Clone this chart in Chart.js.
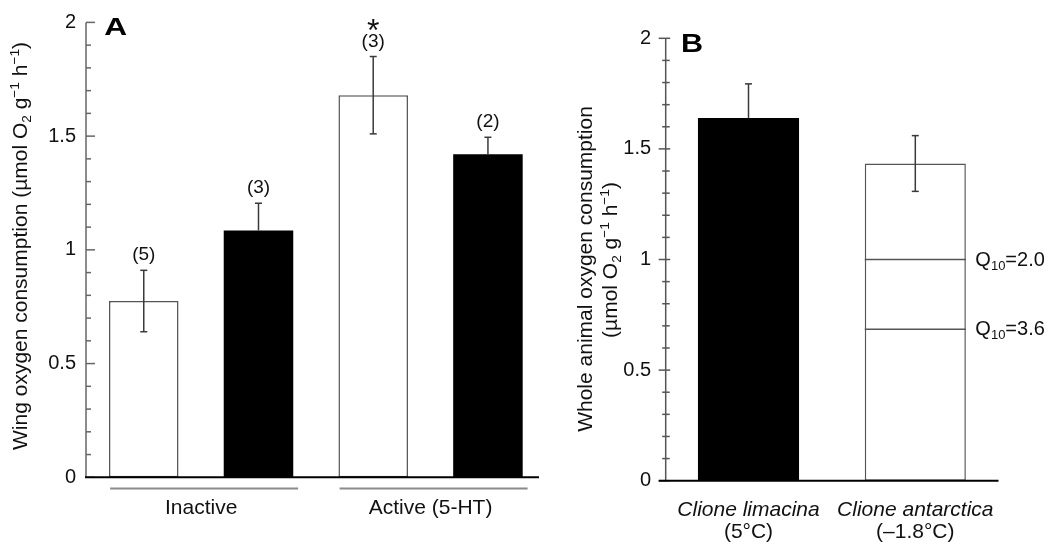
<!DOCTYPE html>
<html><head><meta charset="utf-8">
<script src="https://cdn.jsdelivr.net/npm/chart.js@4.4.1/dist/chart.umd.min.js"></script>
<style>
html,body{margin:0;padding:0;background:#fff;width:1051px;height:544px;overflow:hidden}
#wa{position:absolute;left:0;top:0;width:560px;height:544px}
#wb{position:absolute;left:545px;top:0;width:506px;height:544px}
</style></head><body>
<div id="wa"><canvas id="ca"></canvas></div>
<div id="wb"><canvas id="cb"></canvas></div>
<script>
// ---------- Data: panel A ----------
const groupsA = ['Inactive', 'Active (5-HT)'];
const whiteA = [0.775, 1.68];
const whiteErrA = [0.135, 0.17];
const whiteNA = ['(5)', '(3)'];
const whiteSigA = ['', '*'];
const blackA = [1.085, 1.42];
const blackErrA = [0.12, 0.075];
const blackNA = ['(3)', '(2)'];
const yTicksA = [0, 0.5, 1, 1.5, 2];
const yTickLabelsA = ['0', '0.5', '1', '1.5', '2'];

// ---------- Data: panel B ----------
const speciesB = ['Clione limacina', 'Clione antarctica'];
const tempsB = ['(5°C)', '(–1.8°C)'];
const valuesB = [1.64, 1.434];
const errB = [0.154, 0.126];
const q10Labels = ['2.0', '3.6'];
const q10Values = [1.0, 0.685];
const yTicksB = [0, 0.5, 1, 1.5, 2];
const yTickLabelsB = ['0', '0.5', '1', '1.5', '2'];

const FAM = '"Liberation Sans", Arial, Helvetica, sans-serif';

function drawRich(ctx, segs, x0, by, size, align, style) {
  const st = style ? style + ' ' : '';
  let w = 0;
  segs.forEach(sg => {
    const s = sg.k ? size * 0.65 : size;
    ctx.font = st + s + 'px ' + FAM;
    sg.w = ctx.measureText(sg.t).width; w += sg.w;
  });
  let x = align === 'center' ? x0 - w / 2 : x0;
  ctx.textAlign = 'left'; ctx.textBaseline = 'alphabetic';
  segs.forEach(sg => {
    const s = sg.k ? size * 0.65 : size;
    ctx.font = st + s + 'px ' + FAM;
    const dy = sg.k === 'sub' ? size * 0.2 : sg.k === 'sup' ? -size * 0.38 : 0;
    ctx.fillText(sg.t, x, by + dy);
    x += sg.w;
  });
}
function textCentered(ctx, t, x, cy) {
  const m = ctx.measureText(t);
  const by = cy - (m.actualBoundingBoxDescent - m.actualBoundingBoxAscent) / 2;
  ctx.textAlign = 'center'; ctx.textBaseline = 'alphabetic';
  ctx.fillText(t, x, by);
}
function seg(ctx, x1, y1, x2, y2) { ctx.beginPath(); ctx.moveTo(x1, y1); ctx.lineTo(x2, y2); ctx.stroke(); }

function errorBars(chart, di, errs, lower) {
  const {ctx, scales: {y}} = chart;
  const meta = chart.getDatasetMeta(di);
  const data = chart.data.datasets[di].data;
  ctx.strokeStyle = '#3a3a3a'; ctx.lineWidth = 1.5;
  meta.data.forEach((bar, i) => {
    const v = data[i];
    const yt = y.getPixelForValue(v + errs[i]);
    const yb = y.getPixelForValue(v - errs[i]);
    const yv = y.getPixelForValue(v);
    seg(ctx, bar.x, yt, bar.x, lower ? yb : yv);
    seg(ctx, bar.x - 3.5, yt, bar.x + 3.5, yt);
    if (lower) seg(ctx, bar.x - 3.5, yb, bar.x + 3.5, yb);
  });
}

// ---------- Panel A ----------
const plugA = {
  id: 'decoA',
  afterDatasetsDraw(chart) {
    const {ctx, scales: {x, y}} = chart;
    ctx.save();
    const ax = 86;
    ctx.strokeStyle = '#666'; ctx.lineWidth = 1.5;
    seg(ctx, ax, y.getPixelForValue(2), ax, y.getPixelForValue(0));
    for (let k = 0; k <= 20; k++) {
      const py = y.getPixelForValue(k / 10);
      seg(ctx, ax, py, ax + (k % 5 === 0 ? 9 : 5), py);
    }
    ctx.strokeStyle = '#000'; ctx.lineWidth = 2;
    const y0 = y.getPixelForValue(0);
    seg(ctx, ax - 1, y0, 539, y0);
    errorBars(chart, 0, whiteErrA, true);
    errorBars(chart, 1, blackErrA, false);
    ctx.fillStyle = '#111';
    [[0, whiteErrA, whiteNA, whiteSigA], [1, blackErrA, blackNA, null]].forEach(([di, errs, ns, sig]) => {
      const meta = chart.getDatasetMeta(di);
      const data = chart.data.datasets[di].data;
      meta.data.forEach((bar, i) => {
        const yt = y.getPixelForValue(data[i] + errs[i]);
        ctx.font = '19px ' + FAM;
        const cy = yt - 14.5;
        textCentered(ctx, ns[i], bar.x, cy);
        if (sig && sig[i]) {
          ctx.font = '32px ' + FAM;
          textCentered(ctx, sig[i], bar.x, cy - 17);
        }
      });
    });
    groupsA.forEach((g, i) => {
      const cx = x.getPixelForValue(i);
      ctx.strokeStyle = '#8a8a8a'; ctx.lineWidth = 2;
      seg(ctx, cx - 91, 488.5, cx + 97, 488.5);
      ctx.fillStyle = '#111'; ctx.font = '21px ' + FAM;
      ctx.textAlign = 'center'; ctx.textBaseline = 'alphabetic';
      ctx.fillText(g, cx, 514);
    });
    ctx.save();
    ctx.translate(104.3, 35);
    ctx.scale(1.35, 1);
    ctx.font = 'bold 23.5px ' + FAM; ctx.textAlign = 'left'; ctx.fillStyle = '#000';
    ctx.fillText('A', 0, 0);
    ctx.restore();
    ctx.save();
    ctx.translate(26.5, 246);
    ctx.rotate(-Math.PI / 2);
    ctx.fillStyle = '#111';
    drawRich(ctx, [{t: 'Wing oxygen consumption (µmol O'}, {t: '2', k: 'sub'}, {t: ' g'}, {t: '−1', k: 'sup'}, {t: ' h'}, {t: '−1', k: 'sup'}, {t: ')'}], 0, 0, 21, 'center');
    ctx.restore();
    ctx.restore();
  }
};

new Chart(document.getElementById('ca'), {
  type: 'bar',
  data: {
    labels: groupsA,
    datasets: [
      {data: whiteA, backgroundColor: '#fff', borderColor: '#555', borderWidth: 1.5, borderSkipped: false},
      {data: blackA, backgroundColor: '#000', borderColor: '#000', borderWidth: 0}
    ]
  },
  options: {
    responsive: true, maintainAspectRatio: false, animation: false,
    categoryPercentage: 1.0, barPercentage: 0.606,
    layout: {padding: {top: 17.3, right: 14.7, left: 0, bottom: 0}},
    plugins: {legend: {display: false}, tooltip: {enabled: false}},
    scales: {
      x: {grid: {display: false, drawTicks: false}, border: {display: false}, ticks: {display: false},
          afterFit: s => { s.height = 66.7; }},
      y: {min: 0, max: 2, grid: {display: false, drawTicks: false}, border: {display: false},
          afterBuildTicks: s => { s.ticks = yTicksA.map(v => ({value: v})); },
          ticks: {padding: 10.4, color: '#111', font: {family: FAM, size: 20},
                  callback: (v) => yTickLabelsA[yTicksA.indexOf(v)] ?? String(v)},
          afterFit: s => { s.width = 86.4; }}
    }
  },
  plugins: [plugA]
});

// ---------- Panel B ----------
const plugB = {
  id: 'decoB',
  afterDatasetsDraw(chart) {
    const {ctx, scales: {x, y}} = chart;
    const OX = 545;
    ctx.save();
    const ax = 665.7 - OX;
    ctx.strokeStyle = '#555'; ctx.lineWidth = 1.5;
    seg(ctx, ax, y.getPixelForValue(2), ax, y.getPixelForValue(0));
    for (let k = 0; k <= 20; k++) {
      const py = y.getPixelForValue(k / 10);
      if (k % 5 === 0) seg(ctx, ax - 7, py, ax + 4.5, py);
      else seg(ctx, ax - 3.5, py, ax + 4, py);
    }
    ctx.strokeStyle = '#000'; ctx.lineWidth = 2;
    const y0 = y.getPixelForValue(0);
    seg(ctx, ax - 7, y0, 998.5 - OX, y0);
    const meta = chart.getDatasetMeta(0);
    const bar = meta.data[1];
    ctx.strokeStyle = '#555'; ctx.lineWidth = 1.5;
    q10Values.forEach((v, i) => {
      const py = y.getPixelForValue(v);
      seg(ctx, bar.x - bar.width / 2, py, bar.x + bar.width / 2, py);
      ctx.fillStyle = '#111';
      drawRich(ctx, [{t: 'Q'}, {t: '10', k: 'sub'}, {t: '=' + q10Labels[i]}], bar.x + bar.width / 2 + 9.5, py + 6, 20, 'left');
    });
    const data = chart.data.datasets[0].data;
    ctx.strokeStyle = '#3a3a3a'; ctx.lineWidth = 1.5;
    meta.data.forEach((b, i) => {
      const yt = y.getPixelForValue(data[i] + errB[i]);
      const yb = y.getPixelForValue(data[i] - errB[i]);
      const yv = y.getPixelForValue(data[i]);
      const lower = i === 1;
      seg(ctx, b.x, yt, b.x, lower ? yb : yv);
      seg(ctx, b.x - 3.5, yt, b.x + 3.5, yt);
      if (lower) seg(ctx, b.x - 3.5, yb, b.x + 3.5, yb);
    });
    ctx.fillStyle = '#111'; ctx.textAlign = 'center'; ctx.textBaseline = 'alphabetic';
    speciesB.forEach((s, i) => {
      const cx = x.getPixelForValue(i);
      ctx.font = 'italic 21px ' + FAM;
      ctx.fillText(s, cx, 516);
      ctx.font = '21px ' + FAM;
      ctx.fillText(tempsB[i], cx, 537.5);
    });
    ctx.save();
    ctx.translate(681 - OX, 51.7);
    ctx.scale(1.2, 1);
    ctx.font = 'bold 25.5px ' + FAM; ctx.textAlign = 'left'; ctx.fillStyle = '#000';
    ctx.fillText('B', 0, 0);
    ctx.restore();
    ctx.fillStyle = '#111';
    ctx.save();
    ctx.translate(592 - OX, 269);
    ctx.rotate(-Math.PI / 2);
    drawRich(ctx, [{t: 'Whole animal oxygen consumption'}], 0, 0, 21, 'center');
    ctx.restore();
    ctx.save();
    ctx.translate(617 - OX, 260);
    ctx.rotate(-Math.PI / 2);
    drawRich(ctx, [{t: '(µmol O'}, {t: '2', k: 'sub'}, {t: ' g'}, {t: '−1', k: 'sup'}, {t: ' h'}, {t: '−1', k: 'sup'}, {t: ')'}], 0, 0, 21, 'center');
    ctx.restore();
    ctx.restore();
  }
};

new Chart(document.getElementById('cb'), {
  type: 'bar',
  data: {
    labels: speciesB,
    datasets: [
      {data: valuesB, backgroundColor: ['#000', '#fff'], borderColor: ['#000', '#555'], borderWidth: [0, 1.5], borderSkipped: false}
    ]
  },
  options: {
    responsive: true, maintainAspectRatio: false, animation: false,
    categoryPercentage: 1.0, barPercentage: 0.606,
    layout: {padding: {top: 38.3, right: 52.3, left: 0, bottom: 0}},
    plugins: {legend: {display: false}, tooltip: {enabled: false}},
    scales: {
      x: {grid: {display: false, drawTicks: false}, border: {display: false}, ticks: {display: false},
          afterFit: s => { s.height = 63.3; }},
      y: {min: 0, max: 2, grid: {display: false, drawTicks: false}, border: {display: false},
          afterBuildTicks: s => { s.ticks = yTicksB.map(v => ({value: v})); },
          ticks: {padding: 14, color: '#111', font: {family: FAM, size: 20},
                  callback: (v) => yTickLabelsB[yTicksB.indexOf(v)] ?? String(v)},
          afterFit: s => { s.width = 120.1; }}
    }
  },
  plugins: [plugB]
});
</script>
</body></html>
